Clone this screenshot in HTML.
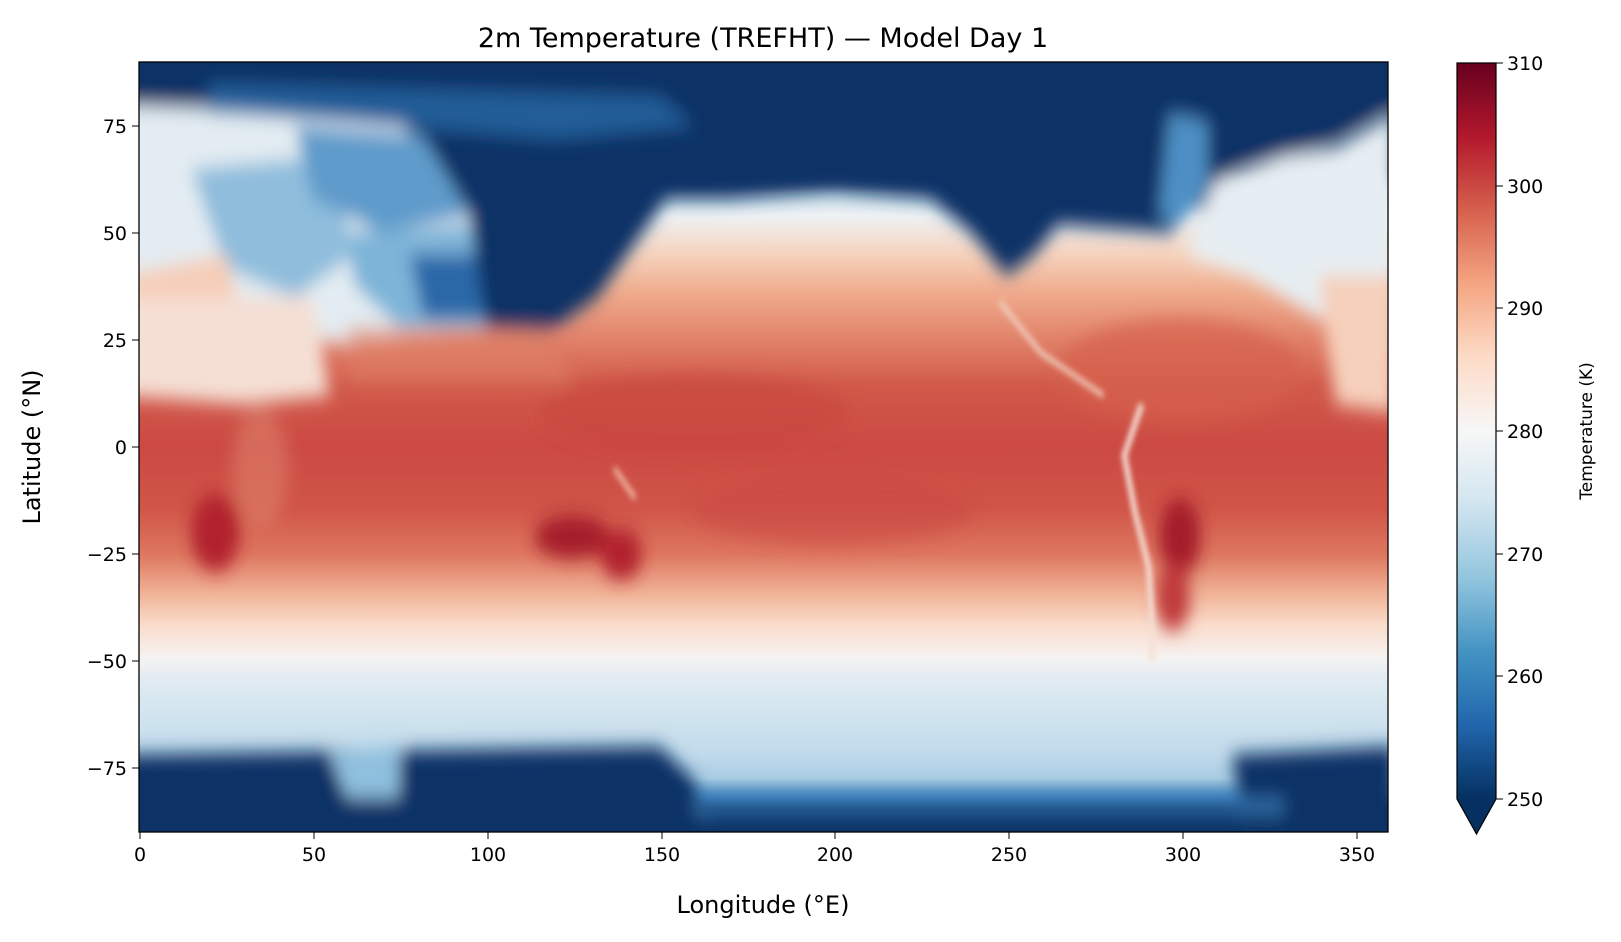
<!DOCTYPE html>
<html><head><meta charset="utf-8"><style>
body{margin:0;background:#fff;width:1621px;height:937px;overflow:hidden;font-family:"Liberation Sans","DejaVu Sans",sans-serif;}
</style></head><body>
<svg width="1621" height="937" xmlns="http://www.w3.org/2000/svg" font-family="DejaVu Sans, Liberation Sans, sans-serif">
<defs>
<linearGradient id="base" x1="0" y1="0" x2="0" y2="1">
<stop offset="0" stop-color="#0b3366"/>
<stop offset="0.14" stop-color="#0b3366"/>
<stop offset="0.17" stop-color="#cfe3ee"/>
<stop offset="0.20" stop-color="#eef2f5"/>
<stop offset="0.25" stop-color="#f6d2bd"/>
<stop offset="0.30" stop-color="#efab8c"/>
<stop offset="0.36" stop-color="#e1826a"/>
<stop offset="0.42" stop-color="#d15a4a"/>
<stop offset="0.50" stop-color="#cc4a43"/>
<stop offset="0.58" stop-color="#d05548"/>
<stop offset="0.64" stop-color="#de7760"/>
<stop offset="0.69" stop-color="#f0b296"/>
<stop offset="0.73" stop-color="#fadbca"/>
<stop offset="0.775" stop-color="#f5f3f2"/>
<stop offset="0.80" stop-color="#e2ecf2"/>
<stop offset="0.86" stop-color="#cde2ee"/>
<stop offset="0.90" stop-color="#c0daeb"/>
<stop offset="0.93" stop-color="#a9cde3"/>
<stop offset="0.955" stop-color="#3a7db8"/>
<stop offset="0.97" stop-color="#0b3366"/>
<stop offset="1" stop-color="#0b3366"/>
</linearGradient>
<linearGradient id="cb" x1="0" y1="1" x2="0" y2="0">
<stop offset="0" stop-color="#053061"/><stop offset="0.1" stop-color="#2166ac"/>
<stop offset="0.2" stop-color="#4393c3"/><stop offset="0.3" stop-color="#92c5de"/>
<stop offset="0.4" stop-color="#d1e5f0"/><stop offset="0.5" stop-color="#f7f7f7"/>
<stop offset="0.6" stop-color="#fddbc7"/><stop offset="0.7" stop-color="#f4a582"/>
<stop offset="0.8" stop-color="#d6604d"/><stop offset="0.9" stop-color="#b2182b"/>
<stop offset="1" stop-color="#67001f"/>
</linearGradient>
<filter id="b1" x="-20%" y="-20%" width="140%" height="140%"><feGaussianBlur stdDeviation="2.2"/></filter>
<filter id="b2" x="-20%" y="-20%" width="140%" height="140%"><feGaussianBlur stdDeviation="0.8"/></filter>
<clipPath id="cp"><rect x="0" y="0" width="360" height="180"/></clipPath>
</defs>
<text x="763" y="47" font-size="27" text-anchor="middle" fill="#000">2m Temperature (TREFHT) — Model Day 1</text>
<svg x="139" y="62" width="1249" height="770" viewBox="0 0 360 180" preserveAspectRatio="none">
<g clip-path="url(#cp)">
<rect x="0" y="0" width="360" height="180" fill="url(#base)"/>
<g filter="url(#b1)">
<!-- Left upper light region -->
<path d="M-5 10 L70 12 L95 25 L100 62 L60 66 L20 60 L0 55 L-5 55Z" fill="#e3ecf2"/>
<path d="M15 25 L55 22 L62 45 L45 55 L25 48Z" fill="#8fbddc"/>
<path d="M45 15 L95 18 L100 35 L70 40 L50 32Z" fill="#5f9bcb"/>
<path d="M60 40 L100 38 L100 62 L75 62 L62 52Z" fill="#7db4d8"/>
<path d="M78 45 L100 45 L100 60 L82 60Z" fill="#2a67a8"/>
<path d="M-5 50 L25 45 L30 60 L15 58 L-5 58Z" fill="#f6cdb7"/>
<path d="M-5 55 L50 55 L55 78 L30 80 L-5 78Z" fill="#f5dfd4"/>
<!-- North dark -->
<path d="M-5 -5 L362 -5 L362 10 L340 20 L315 25 L308 35 L300 32 L298 40 L265 38 L258 45 L250 50 L240 40 L228 32 L200 30 L170 32 L152 32 L145 40 L132 55 L118 63 L100 62 L95 35 L80 15 L20 10 L-5 10Z" fill="#0b3366"/>
<path d="M20 5 L150 8 L160 15 L120 18 L60 14 L20 12Z" fill="#2f6fae" opacity="0.7"/>
<!-- Greenland/right light -->
<path d="M302 45 L310 28 L330 22 L345 20 L362 12 L362 60 L340 60 L320 50Z" fill="#e6eef3"/>
<path d="M297 12 L308 14 L308 30 L300 38 L294 36Z" fill="#4d8fc4"/>
<path d="M340 50 L362 50 L362 82 L345 80Z" fill="#f6d0bb"/>
<!-- North America / Atlantic reds -->
<ellipse cx="300" cy="72" rx="35" ry="12" fill="#d5604c" opacity="0.7"/>
<ellipse cx="160" cy="82" rx="45" ry="9" fill="#c8433e" opacity="0.6"/>
<!-- Asia south -->
<path d="M60 62 L118 62 L125 75 L60 75Z" fill="#df8166" opacity="0.6"/>
<!-- Dark reds -->
<ellipse cx="22" cy="110" rx="7" ry="9" fill="#b2202e"/>
<ellipse cx="125" cy="111" rx="11" ry="5" fill="#a51a2a"/>
<ellipse cx="139" cy="115" rx="6" ry="6" fill="#b2202e"/>
<ellipse cx="300" cy="111" rx="6" ry="9" fill="#a51a2a"/>
<ellipse cx="298" cy="125" rx="5" ry="8" fill="#c03a3a"/>
<ellipse cx="200" cy="105" rx="40" ry="8" fill="#c9463f" opacity="0.5"/>
<!-- Africa east lighter -->
<ellipse cx="35" cy="95" rx="8" ry="14" fill="#e08a70" opacity="0.5"/>
<!-- Bottom -->
<path d="M-5 162 L150 160 L160 168 L165 185 L-5 185Z" fill="#0b3366"/>
<path d="M315 162 L362 160 L362 185 L320 185Z" fill="#0b3366"/>
<path d="M160 172 L330 172 L330 176 L160 176Z" fill="#3f82bd" opacity="0.7"/>
<path d="M55 162 L75 160 L75 172 L60 172Z" fill="#8fc0de"/>
</g>
<g filter="url(#b2)" fill="none">
<path d="M289 80 L284 92 L287 105 L291 118 L292 132 L292 140" stroke="#f6e0d6" stroke-width="1.6"/>
<path d="M248 56 L260 68 L278 78" stroke="#f3d2c2" stroke-width="1.2"/>
<path d="M137 95 L143 102" stroke="#f2c0aa" stroke-width="1.2"/>
</g>
</g>
</svg>
<rect x="139" y="62" width="1249" height="770" fill="none" stroke="#000" stroke-width="1.3"/>
<!-- x ticks -->
<g font-size="19" text-anchor="middle" fill="#000">
<line x1="140" y1="832" x2="140" y2="839" stroke="#000"/><text x="140" y="861">0</text>
<line x1="314" y1="832" x2="314" y2="839" stroke="#000"/><text x="314" y="861">50</text>
<line x1="488" y1="832" x2="488" y2="839" stroke="#000"/><text x="488" y="861">100</text>
<line x1="662" y1="832" x2="662" y2="839" stroke="#000"/><text x="662" y="861">150</text>
<line x1="835" y1="832" x2="835" y2="839" stroke="#000"/><text x="835" y="861">200</text>
<line x1="1009" y1="832" x2="1009" y2="839" stroke="#000"/><text x="1009" y="861">250</text>
<line x1="1183" y1="832" x2="1183" y2="839" stroke="#000"/><text x="1183" y="861">300</text>
<line x1="1357" y1="832" x2="1357" y2="839" stroke="#000"/><text x="1357" y="861">350</text>
</g>
<g font-size="19" text-anchor="end" fill="#000">
<line x1="132" y1="126" x2="139" y2="126" stroke="#000"/><text x="127" y="133">75</text>
<line x1="132" y1="233" x2="139" y2="233" stroke="#000"/><text x="127" y="240">50</text>
<line x1="132" y1="340" x2="139" y2="340" stroke="#000"/><text x="127" y="347">25</text>
<line x1="132" y1="447" x2="139" y2="447" stroke="#000"/><text x="127" y="454">0</text>
<line x1="132" y1="554" x2="139" y2="554" stroke="#000"/><text x="127" y="561">−25</text>
<line x1="132" y1="661" x2="139" y2="661" stroke="#000"/><text x="127" y="668">−50</text>
<line x1="132" y1="768" x2="139" y2="768" stroke="#000"/><text x="127" y="775">−75</text>
</g>
<text x="763" y="913" font-size="24" text-anchor="middle">Longitude (°E)</text>
<text transform="translate(40 447) rotate(-90)" font-size="24" text-anchor="middle">Latitude (°N)</text>
<!-- colorbar -->
<rect x="1457" y="63" width="39" height="736" fill="url(#cb)"/>
<path d="M1457 799 L1476.5 834 L1496 799Z" fill="#053061"/>
<path d="M1457 63 L1496 63 L1496 799 L1476.5 834 L1457 799Z" fill="none" stroke="#000" stroke-width="1.2"/>
<g font-size="19" fill="#000">
<line x1="1496" y1="63" x2="1503" y2="63" stroke="#000"/><text x="1507" y="70">310</text>
<line x1="1496" y1="186" x2="1503" y2="186" stroke="#000"/><text x="1507" y="193">300</text>
<line x1="1496" y1="308" x2="1503" y2="308" stroke="#000"/><text x="1507" y="315">290</text>
<line x1="1496" y1="431" x2="1503" y2="431" stroke="#000"/><text x="1507" y="438">280</text>
<line x1="1496" y1="554" x2="1503" y2="554" stroke="#000"/><text x="1507" y="561">270</text>
<line x1="1496" y1="676" x2="1503" y2="676" stroke="#000"/><text x="1507" y="683">260</text>
<line x1="1496" y1="799" x2="1503" y2="799" stroke="#000"/><text x="1507" y="806">250</text>
</g>
<text transform="translate(1592 431) rotate(-90)" font-size="17" text-anchor="middle">Temperature (K)</text>
</svg>
</body></html>
